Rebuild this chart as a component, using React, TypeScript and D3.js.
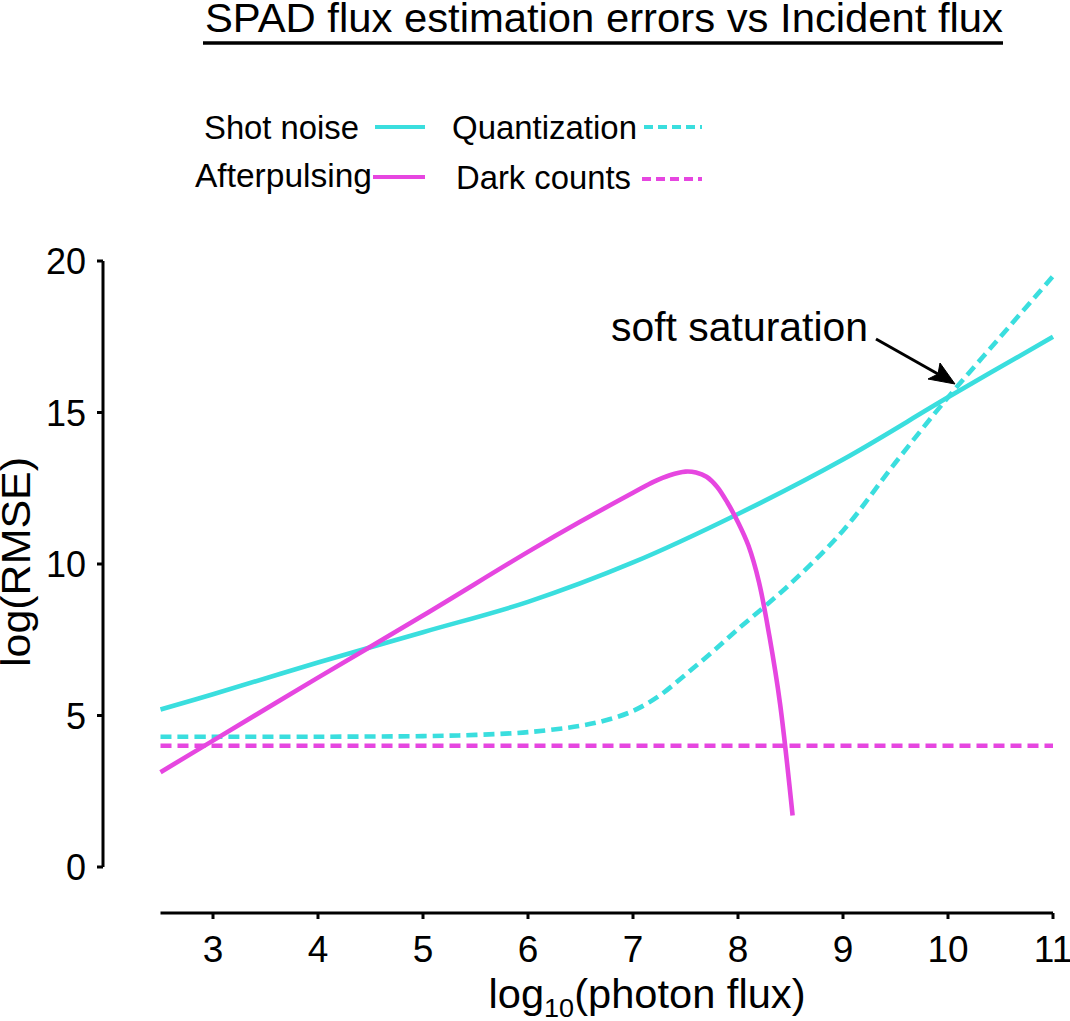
import React from 'react';
import * as d3 from 'd3';

// values
const shotX = [2.5, 3, 4, 5, 6, 7, 8, 9, 10, 11];
const shotY = [5.2, 5.7, 6.75, 7.75, 8.75, 10.05, 11.65, 13.45, 15.5, 17.5];

const quantX = [2.5, 3, 4, 5, 5.5, 6, 6.5, 6.75, 7, 7.25, 7.5, 7.75, 8, 8.5, 9, 9.5, 10, 10.5, 11];
const quantY = [4.3, 4.3, 4.3, 4.32, 4.36, 4.45, 4.66, 4.85, 5.15, 5.65, 6.35, 7.08, 7.85, 9.35, 11.1, 13.35, 15.5, 17.5, 19.5];

const afterX = [2.5, 3, 4, 5, 6, 6.5, 7, 7.2, 7.35, 7.5, 7.6, 7.7, 7.8, 7.9, 8, 8.1, 8.2, 8.3, 8.4, 8.52];
const afterY = [3.13, 4.17, 6.25, 8.3, 10.4, 11.4, 12.35, 12.72, 12.93, 13.05, 13.02, 12.88, 12.55, 12.02, 11.38, 10.6, 9.4, 7.6, 5.4, 1.7];

const darkX = [2.5, 11];
const darkY = [4, 4];

const xTicks = [3, 4, 5, 6, 7, 8, 9, 10, 11];
const yTicks = [0, 5, 10, 15, 20];

const CYAN = '#3adede';
const MAGENTA = '#e646e0';
const FONT = '"Liberation Sans", Arial, Helvetica, sans-serif';

const zip = (xs: number[], ys: number[]) => xs.map((x, i) => [x, ys[i]] as [number, number]);

export default function App() {
    const x = d3.scaleLinear().domain([2.5, 11]).range([160.5, 1053]);
    const y = d3.scaleLinear().domain([0, 20]).range([867, 261]);
    const line = d3.line<[number, number]>()
        .x(d => x(d[0]))
        .y(d => y(d[1]))
        .curve(d3.curveCatmullRom.alpha(0.5));

    const axisX = 103;
    const axisY = 913;

    const series = [
        { pts: zip(darkX, darkY), color: MAGENTA, dash: '11,6' },
        { pts: zip(quantX, quantY), color: CYAN, dash: '11,6' },
        { pts: zip(shotX, shotY), color: CYAN, dash: null },
        { pts: zip(afterX, afterY), color: MAGENTA, dash: null },
    ];

    return (
        <svg width={1070} height={1021} style={{ position: 'absolute', left: 0, top: 0, background: '#fff' }}
             fontFamily={FONT}>
            {/* title */}
            <text x={604} y={32} textAnchor="middle" fontSize={40} textLength={798} lengthAdjust="spacingAndGlyphs">
                SPAD flux estimation errors vs Incident flux
            </text>
            <line x1={203} x2={1003} y1={43} y2={43} stroke="#000" strokeWidth={3.5} />

            {/* legend */}
            <g fontSize={33}>
                <text x={204} y={139} textLength={155} lengthAdjust="spacingAndGlyphs">Shot noise</text>
                <line x1={375} x2={425} y1={127} y2={127} stroke={CYAN} strokeWidth={4} />
                <text x={452} y={139} textLength={185} lengthAdjust="spacingAndGlyphs">Quantization</text>
                <line x1={644} x2={702} y1={127} y2={127} stroke={CYAN} strokeWidth={4} strokeDasharray="9,5" />
                <text x={195} y={187} textLength={177} lengthAdjust="spacingAndGlyphs">Afterpulsing</text>
                <line x1={373} x2={425} y1={177} y2={177} stroke={MAGENTA} strokeWidth={4} />
                <text x={456} y={189} textLength={175} lengthAdjust="spacingAndGlyphs">Dark counts</text>
                <line x1={642} x2={702} y1={179} y2={179} stroke={MAGENTA} strokeWidth={4} strokeDasharray="9,5" />
            </g>

            {/* y axis */}
            <line x1={axisX} x2={axisX} y1={y(20)} y2={y(0)} stroke="#000" strokeWidth={3} />
            {yTicks.map(t => (
                <g key={t} transform={`translate(0,${y(t)})`}>
                    <line x1={axisX - 6} x2={axisX} stroke="#000" strokeWidth={3} />
                    <text x={86} dy={13} textAnchor="end" fontSize={36}>{t}</text>
                </g>
            ))}
            <text transform="translate(30,562) rotate(-90)" textAnchor="middle" fontSize={40}
                  textLength={210} lengthAdjust="spacingAndGlyphs">log(RMSE)</text>

            {/* x axis */}
            <line x1={x(2.5)} x2={x(11)} y1={axisY} y2={axisY} stroke="#000" strokeWidth={3} />
            {xTicks.map(t => (
                <g key={t} transform={`translate(${x(t)},0)`}>
                    <line y1={axisY} y2={axisY + 6} stroke="#000" strokeWidth={3} />
                    <text y={962} textAnchor="middle" fontSize={37}>{t}</text>
                </g>
            ))}
            <text x={647} y={1008} textAnchor="middle" fontSize={40} textLength={317} lengthAdjust="spacingAndGlyphs">
                log<tspan fontSize={26} dy={9}>10</tspan><tspan dy={-9}>(photon flux)</tspan>
            </text>

            {/* curves */}
            {series.map((s, i) => (
                <path key={i} d={line(s.pts) || ''} fill="none" stroke={s.color} strokeWidth={4.6}
                      strokeDasharray={s.dash || undefined} />
            ))}

            {/* annotation */}
            <text x={611} y={341} fontSize={40} textLength={257} lengthAdjust="spacingAndGlyphs">soft saturation</text>
            <line x1={876} x2={938} y1={339} y2={374} stroke="#000" strokeWidth={3} />
            <path d="M955,384 L928,379 L938,374 L940,363 Z" fill="#000" stroke="#000" strokeWidth={1} strokeLinejoin="miter" />
        </svg>
    );
}
